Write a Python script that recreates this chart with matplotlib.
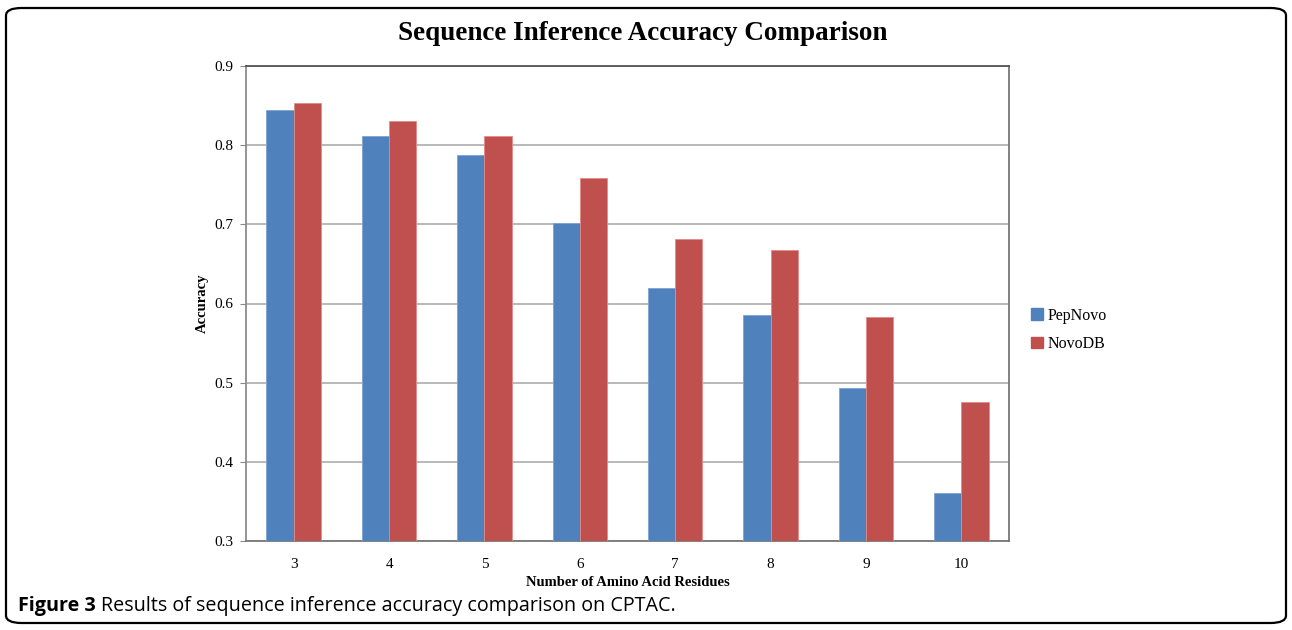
import matplotlib.pyplot as plt
import numpy as np
from matplotlib.patches import FancyBboxPatch, Patch

# data
residues = ['3', '4', '5', '6', '7', '8', '9', '10']
pepnovo = [0.845, 0.811, 0.787, 0.702, 0.620, 0.586, 0.493, 0.361]
novodb = [0.853, 0.831, 0.812, 0.759, 0.682, 0.667, 0.583, 0.476]
series_names = ['PepNovo', 'NovoDB']
y_ticks = [0.3, 0.4, 0.5, 0.6, 0.7, 0.8, 0.9]

BLUE = '#4F81BD'
RED = '#C0504D'
SERIF = 'Liberation Serif'

fig = plt.figure(figsize=(12.92, 6.3), dpi=100)
ax = fig.add_axes([246 / 1292, 1 - 541 / 630, 763 / 1292, 475 / 630])

x = np.arange(len(residues))
w = 1 / 3.5  # excel gap width 150%
ax.bar(x - w / 2, pepnovo, w, color=BLUE, edgecolor='#7FA3D3', linewidth=0.6, zorder=3)
ax.bar(x + w / 2, novodb, w, color=RED, edgecolor='#E38A88', linewidth=0.6, zorder=3)

ax.set_xlim(-0.5, len(residues) - 0.5)
ax.set_ylim(0.3, 0.9)
ax.set_yticks(y_ticks)
ax.set_yticklabels([f'{t:g}' for t in y_ticks], fontfamily=SERIF, fontsize=11)
ax.set_xticks(x)
ax.set_xticklabels(residues, fontfamily=SERIF, fontsize=11)
ax.tick_params(axis='x', length=0, pad=12)
ax.tick_params(axis='y', length=4, color='#888888', pad=5)
ax.yaxis.grid(True, color='#B3B3B3', linewidth=1.3, zorder=0)
ax.set_axisbelow(True)
for side in ['left', 'bottom', 'right']:
    ax.spines[side].set_color('#8C8C8C')
    ax.spines[side].set_linewidth(1.3)
ax.spines['top'].set_color('#555555')
ax.spines['top'].set_linewidth(1.3)
ax.spines['right'].set_color('#777777')
ax.spines['bottom'].set_color('#777777')

ax.set_ylabel('Accuracy', fontfamily=SERIF, fontweight='bold', fontsize=10.5, labelpad=4)
ax.set_xlabel('Number of Amino Acid Residues', fontfamily=SERIF, fontweight='bold',
              fontsize=10.5, labelpad=4)

fig.text(643 / 1292, 1 - 34 / 630, 'Sequence Inference Accuracy Comparison',
         fontfamily=SERIF, fontweight='bold', fontsize=19.5, ha='center', va='center')

handles = [Patch(color=BLUE), Patch(color=RED)]
fig.legend(handles, series_names, loc='center left', bbox_to_anchor=(1017 / 1292, 1 - 330 / 630),
           frameon=False, prop={'family': SERIF, 'size': 11.5}, handlelength=0.7,
           handleheight=0.7, handletextpad=0.3, labelspacing=0.8)

# caption below the chart
cap1 = fig.text(18 / 1292, 1 - 606 / 630, 'Figure 3', fontfamily='Open Sans',
                fontweight='bold', fontsize=14.2, va='center')
fig.canvas.draw()
bb = cap1.get_window_extent()
fig.text(bb.x1 / fig.bbox.width + 5 / 1292, 1 - 606 / 630,
         'Results of sequence inference accuracy comparison on CPTAC.',
         fontfamily='Open Sans', fontsize=14.2, va='center')

border = FancyBboxPatch((6 / 1292, 7 / 630), 1280 / 1292, 615 / 630,
                        boxstyle='round,pad=0,rounding_size=0.012',
                        transform=fig.transFigure, fill=False, edgecolor='black',
                        linewidth=1.6)
fig.patches.append(border)

fig.savefig('out.png', dpi=100)
